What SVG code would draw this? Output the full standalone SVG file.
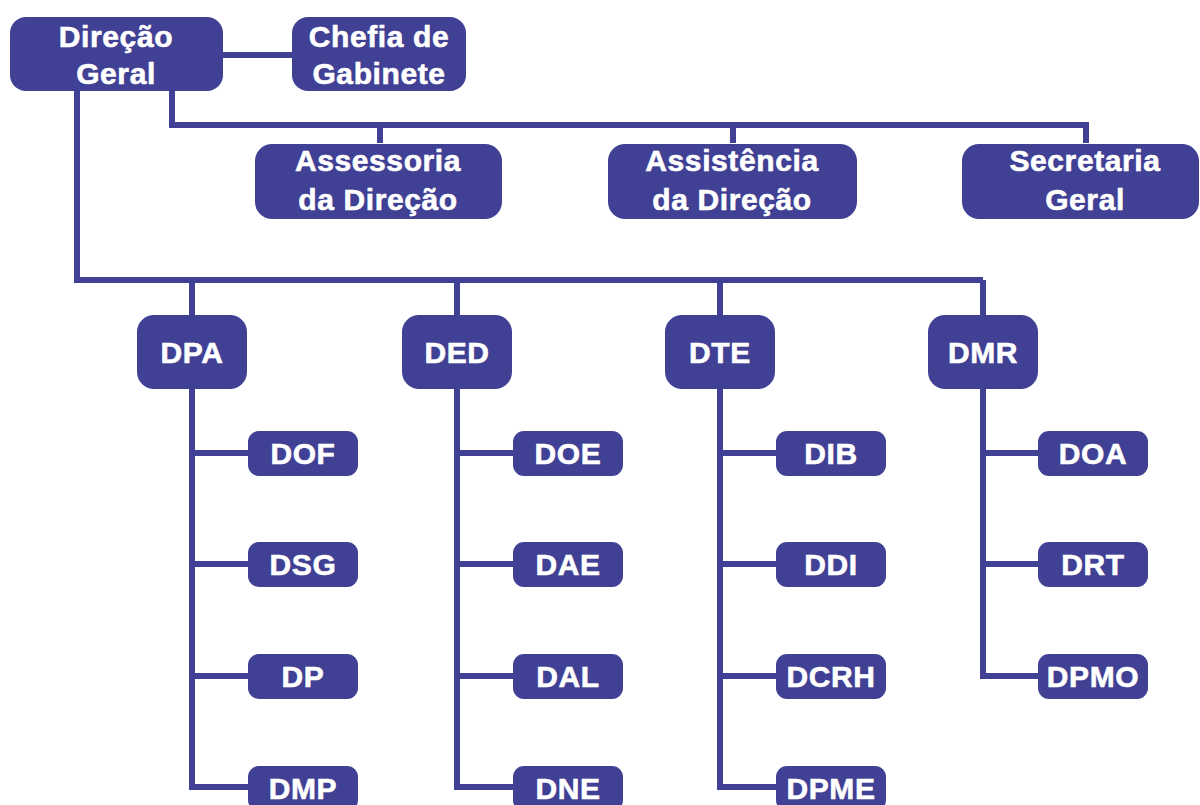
<svg xmlns="http://www.w3.org/2000/svg" width="1200" height="805" viewBox="0 0 1200 805">
<style>
.box{fill:#404094}
.t{fill:#ffffff;stroke:#ffffff;stroke-width:0.6px;font-family:"Liberation Sans",Arial,sans-serif;font-weight:bold;font-size:30px;text-anchor:middle;letter-spacing:0.6px}
.c{fill:none;stroke:#404094;stroke-width:6}
</style>
<rect width="1200" height="805" fill="#ffffff"/>
<g id="connectors">
<path class="c" d="M223 55H292"/>
<path class="c" d="M77 91V280H983"/>
<path class="c" d="M172 91V125H1086V143"/>
<path class="c" d="M380 125V143M733 125V143"/>
<path class="c" d="M192 280V315M457 280V315M720 280V315M983 280V315"/>
<path class="c" d="M192 389V787H248M192 453H248M192 564H248M192 676H248"/>
<path class="c" d="M457 389V787H513M457 453H513M457 564H513M457 676H513"/>
<path class="c" d="M720 389V787H776M720 453H776M720 564H776M720 676H776"/>
<path class="c" d="M983 389V676H1038M983 453H1038M983 564H1038"/>
</g>
<g id="direcao-geral"><rect class="box" x="10" y="17" width="213" height="74" rx="16"/><text class="t" x="116" y="47">Direção</text><text class="t" x="116" y="84">Geral</text></g>
<g id="chefia"><rect class="box" x="292" y="17" width="174" height="74" rx="16"/><text class="t" x="379" y="47">Chefia de</text><text class="t" x="379" y="84">Gabinete</text></g>
<g id="assessoria"><rect class="box" x="255" y="144" width="247" height="75" rx="17"/><text class="t" x="378" y="171">Assessoria</text><text class="t" x="378" y="210">da Direção</text></g>
<g id="assistencia"><rect class="box" x="608" y="144" width="249" height="75" rx="17"/><text class="t" x="732" y="171">Assistência</text><text class="t" x="732" y="210">da Direção</text></g>
<g id="secretaria"><rect class="box" x="962" y="144" width="237" height="75" rx="17"/><text class="t" x="1085" y="171">Secretaria</text><text class="t" x="1085" y="210">Geral</text></g>
<g id="dpa"><rect class="box" x="137" y="315" width="110" height="74" rx="17"/><text class="t" x="192" y="363">DPA</text></g>
<g id="ded"><rect class="box" x="402" y="315" width="110" height="74" rx="17"/><text class="t" x="457" y="363">DED</text></g>
<g id="dte"><rect class="box" x="665" y="315" width="110" height="74" rx="17"/><text class="t" x="720" y="363">DTE</text></g>
<g id="dmr"><rect class="box" x="928" y="315" width="110" height="74" rx="17"/><text class="t" x="983" y="363">DMR</text></g>
<g id="dof"><rect class="box" x="248" y="431" width="110" height="45" rx="11"/><text class="t" x="303" y="464">DOF</text></g>
<g id="dsg"><rect class="box" x="248" y="542" width="110" height="45" rx="11"/><text class="t" x="303" y="575">DSG</text></g>
<g id="dp"><rect class="box" x="248" y="654" width="110" height="45" rx="11"/><text class="t" x="303" y="687">DP</text></g>
<g id="dmp"><rect class="box" x="248" y="766" width="110" height="45" rx="11"/><text class="t" x="303" y="799">DMP</text></g>
<g id="doe"><rect class="box" x="513" y="431" width="110" height="45" rx="11"/><text class="t" x="568" y="464">DOE</text></g>
<g id="dae"><rect class="box" x="513" y="542" width="110" height="45" rx="11"/><text class="t" x="568" y="575">DAE</text></g>
<g id="dal"><rect class="box" x="513" y="654" width="110" height="45" rx="11"/><text class="t" x="568" y="687">DAL</text></g>
<g id="dne"><rect class="box" x="513" y="766" width="110" height="45" rx="11"/><text class="t" x="568" y="799">DNE</text></g>
<g id="dib"><rect class="box" x="776" y="431" width="110" height="45" rx="11"/><text class="t" x="831" y="464">DIB</text></g>
<g id="ddi"><rect class="box" x="776" y="542" width="110" height="45" rx="11"/><text class="t" x="831" y="575">DDI</text></g>
<g id="dcrh"><rect class="box" x="776" y="654" width="110" height="45" rx="11"/><text class="t" x="831" y="687">DCRH</text></g>
<g id="dpme"><rect class="box" x="776" y="766" width="110" height="45" rx="11"/><text class="t" x="831" y="799">DPME</text></g>
<g id="doa"><rect class="box" x="1038" y="431" width="110" height="45" rx="11"/><text class="t" x="1093" y="464">DOA</text></g>
<g id="drt"><rect class="box" x="1038" y="542" width="110" height="45" rx="11"/><text class="t" x="1093" y="575">DRT</text></g>
<g id="dpmo"><rect class="box" x="1038" y="654" width="110" height="45" rx="11"/><text class="t" x="1093" y="687">DPMO</text></g>
</svg>
